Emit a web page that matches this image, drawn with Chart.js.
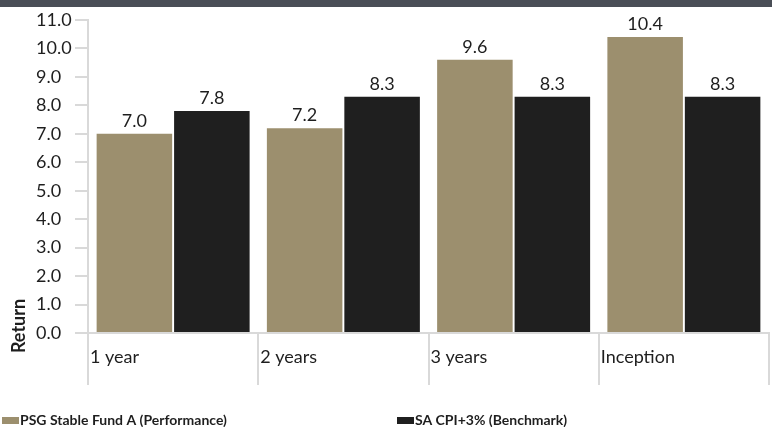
<!DOCTYPE html>
<html>
<head>
<meta charset="utf-8">
<script src="https://cdn.jsdelivr.net/npm/chart.js@4.4.1/dist/chart.umd.min.js"></script>
<style>
    html, body { margin: 0; padding: 0; background: #fff; }
    #wrap { position: relative; width: 772px; height: 427px; }
    #topStrip { position: absolute; left: 0; top: 0; width: 772px; height: 7px; background: #4a4e57; }
    canvas { display: block; }
</style>
</head>
<body>
<div id="wrap">
    <canvas id="returnsChart" width="772" height="427"></canvas>
    <div id="topStrip"></div>
</div>
<script>
// Datos del gráfico
const categories = ['1 year', '2 years', '3 years', 'Inception'];
const fundReturns = [7.0, 7.2, 9.6, 10.4];
const benchmarkReturns = [7.8, 8.3, 8.3, 8.3];
const seriesNames = ['PSG Stable Fund A (Performance)', 'SA CPI+3% (Benchmark)'];
const seriesColors = ['#9c8f6e', '#1f1f1f'];
const yMin = 0;
const yMax = 11;
const yStep = 1;

const FONT = "Lato, 'Open Sans', sans-serif";
const TEXT_COLOR = '#1e1e1e';
const LINE_COLOR = '#d9d9d9';

// Etiquetas de valor sobre cada barra
const valueLabels = {
    id: 'valueLabels',
    afterDatasetsDraw(chart) {
        const ctx = chart.ctx;
        ctx.save();
        ctx.font = '18px ' + FONT;
        ctx.fillStyle = TEXT_COLOR;
        ctx.textAlign = 'center';
        ctx.textBaseline = 'alphabetic';
        chart.data.datasets.forEach((ds, di) => {
            chart.getDatasetMeta(di).data.forEach((bar, i) => {
                ctx.fillText(ds.data[i].toFixed(1), bar.x, bar.y - 7);
            });
        });
        ctx.restore();
    }
};

// Etiquetas del eje X alineadas a la izquierda de cada categoría, título y leyenda
const extras = {
    id: 'extras',
    afterDraw(chart) {
        const ctx = chart.ctx;
        const xs = chart.scales.x;
        const area = chart.chartArea;
        const slot = xs.width / categories.length;
        ctx.save();

        ctx.font = '18px ' + FONT;
        ctx.fillStyle = TEXT_COLOR;
        ctx.textAlign = 'left';
        ctx.textBaseline = 'middle';
        categories.forEach((c, i) => {
            ctx.fillText(c, xs.getPixelForValue(i) - slot / 2 + 2, area.bottom + 24);
        });

        // Título del eje Y
        ctx.save();
        ctx.translate(19, 326);
        ctx.rotate(-Math.PI / 2);
        ctx.font = 'bold 18px ' + FONT;
        ctx.textAlign = 'center';
        ctx.textBaseline = 'middle';
        ctx.fillText('Return', 0, 0);
        ctx.restore();

        // Leyenda
        const legendX = [2, 397];
        const legendY = 420;
        ctx.font = 'bold 14px ' + FONT;
        ctx.textBaseline = 'middle';
        chart.data.datasets.forEach((ds, i) => {
            ctx.fillStyle = ds.backgroundColor;
            ctx.fillRect(legendX[i], legendY - 3, 17, 7);
            ctx.fillStyle = TEXT_COLOR;
            ctx.fillText(ds.label, legendX[i] + 18, legendY);
        });

        ctx.restore();
    }
};

new Chart(document.getElementById('returnsChart'), {
    type: 'bar',
    data: {
        labels: categories,
        datasets: [{
            label: seriesNames[0],
            data: fundReturns,
            backgroundColor: seriesColors[0],
            categoryPercentage: 0.91,
            barPercentage: 0.975
        }, {
            label: seriesNames[1],
            data: benchmarkReturns,
            backgroundColor: seriesColors[1],
            categoryPercentage: 0.91,
            barPercentage: 0.975
        }]
    },
    options: {
        responsive: false,
        animation: false,
        devicePixelRatio: 1,
        layout: {
            padding: { left: 36, right: 3, top: 20, bottom: 42 }
        },
        plugins: {
            legend: { display: false },
            tooltip: { enabled: false }
        },
        scales: {
            x: {
                grid: {
                    offset: true,
                    drawOnChartArea: false,
                    tickLength: 52,
                    color: LINE_COLOR,
                    lineWidth: 2
                },
                border: { color: LINE_COLOR, width: 2 },
                ticks: { display: false },
                afterFit: s => { s.height = 52; }
            },
            y: {
                min: yMin,
                max: yMax,
                grid: {
                    drawOnChartArea: false,
                    tickLength: 13,
                    color: LINE_COLOR,
                    lineWidth: 2
                },
                border: { color: LINE_COLOR, width: 2 },
                ticks: {
                    stepSize: yStep,
                    crossAlign: 'far',
                    color: TEXT_COLOR,
                    font: { family: FONT, size: 18 },
                    callback: v => v.toFixed(1)
                },
                afterFit: s => { s.width = 52; }
            }
        }
    },
    plugins: [valueLabels, extras]
});
</script>
</body>
</html>
